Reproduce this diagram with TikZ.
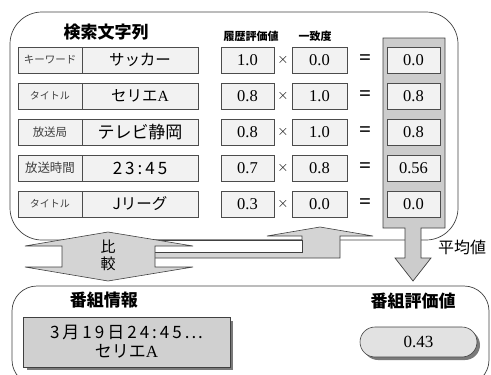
\documentclass[tikz,border=0pt]{standalone}
\usepackage{fontspec}
\setmainfont{Liberation Serif}
\newfontfamily\jp{Noto Sans CJK JP}
\definecolor{cellfill}{HTML}{F2F2F2}
\definecolor{colfill}{HTML}{CCCCCC}
\definecolor{arrfill}{HTML}{D4D4D4}
\definecolor{boxfill}{HTML}{D0D0D0}
\definecolor{pillfill}{HTML}{E2E2E2}
\definecolor{shadowc}{HTML}{7A7A7A}
\begin{document}
\begin{tikzpicture}[x=1pt,y=-1pt,
  frame/.style={draw=black!75, line width=0.7pt, rounded corners=32pt},
  cell/.style={draw=black!70, fill=cellfill, line width=0.6pt, inner sep=0pt, minimum height=26pt},
  lab/.style={cell, minimum width=64pt, text=black!75},
  val/.style={cell, minimum width=116pt, font=\jp\fontsize{15.5}{16}\selectfont},
  num/.style={cell, minimum width=54pt, font=\fontsize{16.5}{17}\selectfont},
  op/.style={font=\fontsize{15}{15}\selectfont},
  eq/.style={font=\bfseries\fontsize{21}{21}\selectfont},
  head/.style={font=\jp\bfseries\fontsize{17}{17}\selectfont},
  sub/.style={font=\jp\bfseries\fontsize{11}{11}\selectfont},
  arr/.style={fill=arrfill, draw=black!75, line width=0.6pt, line join=miter}
]
\useasboundingbox (0,0) rectangle (491,375);
% frames
\draw[frame] (10,12) rectangle (458,240);
\draw[frame, rounded corners=25pt] (12,286) rectangle (489,385);
% bent-up arrow
\draw[arr] (150,240) -- (302,240) -- (302,236) -- (267,236) -- (320,227) -- (373,236)
  -- (340,236) -- (340,258) -- (150,258) -- cycle;
\draw[fill=white, draw=black!75, line width=0.6pt] (150,240) rectangle (302,252);
% compare double arrow
\draw[arr] (108,232) -- (193,246) -- (155,246) -- (155,267) -- (193,267) -- (108,281)
  -- (25,267) -- (62,267) -- (62,246) -- (25,246) -- cycle;
\node[font=\jp\fontsize{15}{15}\selectfont, inner sep=0pt] (cmp1) at (108,247) {比};
\node[font=\jp\fontsize{15}{15}\selectfont, inner sep=0pt] (cmp2) at (108,264) {較};
% result column with down arrow
\draw[fill=colfill, draw=black!75, line width=0.7pt] (383,38) -- (445,38) -- (445,228) -- (421,228)
  -- (421,258) -- (431,258) -- (413,281) -- (395,258) -- (405,258) -- (405,228)
  -- (383,228) -- cycle;
\node[font=\jp\fontsize{16}{16}\selectfont, inner sep=0pt] (avg) at (462,247) {平均値};
% headers
\node[head] (hsearch) at (106,32) {検索文字列};
\node[sub] (hhist) at (251,36) {履歴評価値};
\node[sub] (hmatch) at (315,36) {一致度};
% rows
\foreach \i/\lab/\ls/\val/\a/\b/\c in {
  1/キーワード/10.5/サッカー/1.0/0.0/0.0,
  2/タイトル/10/セリエ{\rmfamily A}/0.8/1.0/0.8,
  3/放送局/11.5/{\fontsize{17}{17}\selectfont テレビ静岡}/0.8/1.0/0.8,
  4/放送時間/12.5/{\fontsize{17}{17}\selectfont 2\kern3pt3\kern3pt:\kern3pt4\kern3pt5}/0.7/0.8/0.56,
  5/タイトル/10/Jリーグ/0.3/0.0/0.0}{
  \pgfmathsetmacro{\yy}{24+36*\i}
  \node[lab, font=\jp\fontsize{\ls}{\ls}\selectfont] (l\i) at (50,\yy) {\lab};
  \node[val] (v\i) at (140,\yy) {\val};
  \node[num, minimum width=53pt] (a\i) at (247.5,\yy) {\a};
  \node[op] (x\i) at (283,\yy) {$\times$};
  \node[num, minimum width=55pt] (b\i) at (319.5,\yy) {\b};
  \node[eq] (e\i) at (365,\yy) {=};
  \node[num, minimum width=53pt] (c\i) at (413.5,\yy) {\c};
}
% bottom part
\node[head] (hinfo) at (104,300) {番組情報};
\node[head] (hscore) at (413,301) {番組評価値};
\fill[shadowc] (27,321) rectangle (233,370);
\node[draw=black!75, fill=boxfill, line width=0.6pt, minimum width=207pt, minimum height=50pt,
  align=center, font=\jp\fontsize{17}{19}\selectfont] (prog) at (126.5,342)
  {3\kern3pt月\kern3pt1\kern3pt9\kern3pt日\kern3pt2\kern3pt4\kern3pt:\kern3pt4\kern3pt5\kern3pt.\kern2pt.\kern2pt.\\セリエ{\rmfamily A}};
\fill[shadowc, rounded corners=15pt] (363,330) rectangle (480,360);
\node[draw=black!75, fill=pillfill, line width=0.6pt, rounded corners=15pt,
  minimum width=117pt, minimum height=30pt, font=\fontsize{17}{17}\selectfont] (score) at (418.5,342) {0.43};
\end{tikzpicture}
\end{document}
